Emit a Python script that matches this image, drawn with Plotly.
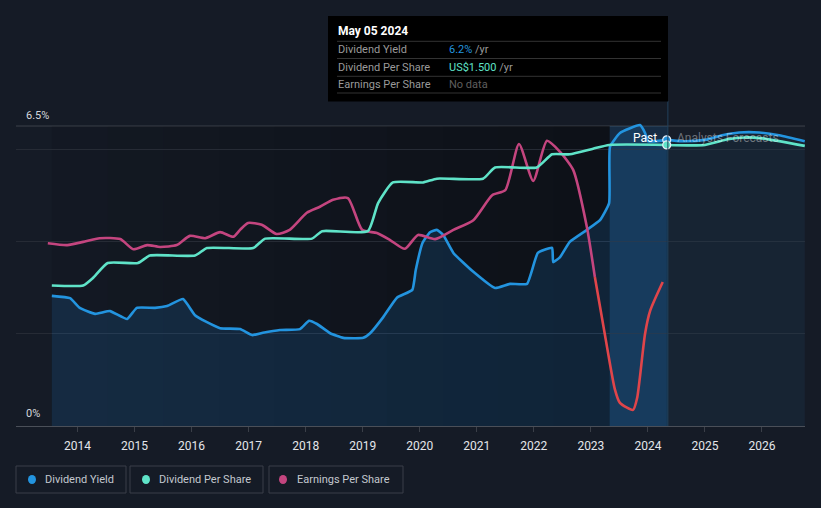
import plotly.graph_objects as go

# ---------------- data ----------------
yield_years = [2013.55, 2013.87, 2014.04, 2014.31, 2014.57, 2014.87, 2015.04, 2015.36, 2015.57,
               2015.85, 2016.06, 2016.27, 2016.50, 2016.85, 2017.06, 2017.25, 2017.55, 2017.90,
               2018.06, 2018.20, 2018.43, 2018.66, 2019.01, 2019.13, 2019.36, 2019.60, 2019.87,
               2019.93, 2020.05, 2020.18, 2020.30, 2020.41, 2020.59, 2020.94, 2021.32, 2021.58,
               2021.88, 2022.07, 2022.32, 2022.34, 2022.46, 2022.63, 2022.93, 2023.16, 2023.32,
               2023.335, 2023.51, 2023.86, 2023.95, 2024.00, 2024.33]
yield_vals = [2.82, 2.77, 2.56, 2.43, 2.49, 2.32, 2.56, 2.56, 2.60,
              2.75, 2.40, 2.25, 2.12, 2.10, 1.97, 2.02, 2.08, 2.10,
              2.28, 2.21, 2.01, 1.91, 1.91, 2.01, 2.36, 2.78, 2.95,
              3.38, 3.97, 4.20, 4.25, 4.14, 3.75, 3.34, 2.99, 3.08,
              3.08, 3.75, 3.86, 3.55, 3.66, 3.99, 4.25, 4.46, 4.83,
              6.05, 6.35, 6.52, 6.35, 6.17, 6.20]

yield_fc_years = [2024.33, 2024.60, 2025.00, 2025.30, 2025.60, 2025.95, 2026.30, 2026.75]
yield_fc_vals = [6.20, 6.17, 6.20, 6.30, 6.36, 6.36, 6.30, 6.17]

dps_years = [2013.55, 2014.10, 2014.27, 2014.53, 2015.06, 2015.27, 2016.06, 2016.27, 2017.08,
             2017.29, 2018.11, 2018.29, 2019.09, 2019.27, 2019.53, 2020.06, 2020.30, 2021.11,
             2021.32, 2022.05, 2022.32, 2022.63, 2023.04, 2023.32, 2024.33]
dps_vals = [0.75, 0.75, 0.79, 0.87, 0.87, 0.91, 0.91, 0.95, 0.95,
            1.00, 1.00, 1.04, 1.04, 1.19, 1.30, 1.30, 1.32, 1.32,
            1.38, 1.38, 1.45, 1.45, 1.48, 1.50, 1.50]

dps_fc_years = [2024.33, 2025.00, 2025.40, 2025.70, 2026.00, 2026.75]
dps_fc_vals = [1.50, 1.50, 1.53, 1.54, 1.535, 1.495]

eps_years = [2013.48, 2013.82, 2014.10, 2014.39, 2014.75, 2014.98, 2015.22, 2015.45, 2015.74,
             2015.97, 2016.24, 2016.50, 2016.73, 2016.85, 2016.99, 2017.23, 2017.49, 2017.72,
             2018.02, 2018.25, 2018.48, 2018.74, 2018.99, 2019.25, 2019.48, 2019.74, 2019.97,
             2020.27, 2020.59, 2020.94, 2021.27, 2021.50, 2021.74, 2021.99, 2022.23, 2022.46,
             2022.69, 2022.93, 2023.07]
eps_vals = [3.96, 3.92, 3.99, 4.07, 4.05, 3.83, 3.92, 3.88, 3.92,
            4.12, 4.07, 4.20, 4.10, 4.25, 4.40, 4.36, 4.16, 4.25,
            4.62, 4.75, 4.90, 4.94, 4.25, 4.18, 4.03, 3.84, 4.14,
            4.05, 4.25, 4.46, 5.00, 5.11, 6.11, 5.31, 6.18, 5.94,
            5.55, 4.31, 3.23]

eps_neg_years = [2023.07, 2023.25, 2023.42, 2023.51, 2023.74, 2023.81, 2023.86, 2023.95, 2024.04, 2024.26]
eps_neg_vals = [3.23, 1.95, 0.80, 0.50, 0.35, 0.60, 1.06, 2.00, 2.50, 3.12]

tick_years = list(range(2014, 2027))
tick_labels = [str(y) for y in tick_years]

# ---------------- styling ----------------
BG = "#151b26"
BLUE = "#2394df"
TEAL = "#5fe3c8"
PINK = "#c4457f"
RED = "#e0454a"
W, H = 821, 508
ML, MR, MT, MB = 16, 16, 16, 82
PX_PER_UNIT = 46.15
Y_MAX = (H - MT - MB) / PX_PER_UNIT
DPS_TO_UNIT = 6.09 / 1.5
X_MIN, X_MAX = 2012.922, 2026.754
START, PAST_END, NOW = 2013.55, 2023.33, 2024.35
FONT = "Roboto"


def xp(px):
    return (px - ML) / (W - ML - MR)


def yp(py):
    return (H - MB - py) / (H - MT - MB)


fig = go.Figure()

fig.add_trace(go.Scatter(x=yield_years, y=yield_vals, mode="lines",
                         line=dict(color=BLUE, width=2.6, shape="spline", smoothing=0.4),
                         fill="tozeroy", fillcolor="rgba(33,150,243,0.15)", hoverinfo="skip"))
fig.add_trace(go.Scatter(x=yield_fc_years, y=yield_fc_vals, mode="lines",
                         line=dict(color=BLUE, width=2.6, shape="spline", smoothing=0.6),
                         fill="tozeroy", fillcolor="rgba(33,150,243,0.06)", hoverinfo="skip"))
fig.add_trace(go.Scatter(x=dps_years, y=dps_vals, yaxis="y2", mode="lines",
                         line=dict(color=TEAL, width=2.6, shape="spline", smoothing=0.5),
                         hoverinfo="skip"))
fig.add_trace(go.Scatter(x=dps_fc_years, y=dps_fc_vals, yaxis="y2", mode="lines",
                         line=dict(color=TEAL, width=2.6, shape="spline", smoothing=0.6),
                         hoverinfo="skip"))
fig.add_trace(go.Scatter(x=eps_years, y=eps_vals, mode="lines",
                         line=dict(color=PINK, width=2.6, shape="spline", smoothing=0.6),
                         hoverinfo="skip"))
fig.add_trace(go.Scatter(x=eps_neg_years, y=eps_neg_vals, mode="lines",
                         line=dict(color=RED, width=2.6, shape="spline", smoothing=0.6),
                         hoverinfo="skip"))
# current-point markers
fig.add_trace(go.Scatter(x=[yield_years[-1]], y=[yield_vals[-1]], mode="markers",
                         marker=dict(color=BLUE, size=8, line=dict(color="#e8eef5", width=1.2)),
                         hoverinfo="skip"))
fig.add_trace(go.Scatter(x=[dps_years[-1]], y=[dps_vals[-1]], yaxis="y2", mode="markers",
                         marker=dict(color=TEAL, size=8, line=dict(color="#e8eef5", width=1.2)),
                         hoverinfo="skip"))

shapes = []
# darker "past" background with gradient
n_seg = 10
for i in range(n_seg):
    x0 = START + (PAST_END - START) * i / n_seg
    x1 = START + (PAST_END - START) * (i + 1) / n_seg
    op = 0.06 + 0.32 * (i + 0.5) / n_seg
    shapes.append(dict(type="rect", xref="x", yref="y", x0=x0, x1=x1, y0=0, y1=6.5,
                       fillcolor=f"rgba(0,0,0,{op:.3f})", line=dict(width=0), layer="below"))
# last-year highlight band
shapes.append(dict(type="rect", xref="x", yref="y", x0=PAST_END, x1=NOW, y0=0, y1=6.5,
                   fillcolor="rgba(33,150,243,0.15)", line=dict(width=0), layer="below"))
# forecast region
shapes.append(dict(type="rect", xref="x", yref="y", x0=NOW, x1=X_MAX, y0=0, y1=6.5,
                   fillcolor="rgba(255,255,255,0.012)", line=dict(width=0), layer="below"))
# 6.5% line
shapes.append(dict(type="line", xref="paper", yref="y", x0=0, x1=1, y0=6.5, y1=6.5,
                   line=dict(color="#3c414b", width=1), layer="below"))
# now line
shapes.append(dict(type="line", xref="x", yref="paper", x0=NOW, x1=NOW, y0=0, y1=yp(101),
                   line=dict(color="#22405c", width=1)))

# tooltip box
shapes.append(dict(type="rect", xref="paper", yref="paper", x0=xp(328), x1=xp(668),
                   y0=yp(101.5), y1=yp(16), fillcolor="#000000", line=dict(width=0)))
for sy in [41.3, 58.5, 76.3, 93]:
    shapes.append(dict(type="line", xref="paper", yref="paper", x0=xp(337), x1=xp(661),
                       y0=yp(sy), y1=yp(sy), line=dict(color="#333333", width=1)))

# legend boxes
legend_items = [("Dividend Yield", BLUE, 16, 126, 32, 43),
                ("Dividend Per Share", TEAL, 130, 263, 146, 157),
                ("Earnings Per Share", PINK, 269, 403, 283, 295)]
annotations = []
for name, col, bx0, bx1, dx, tx in legend_items:
    shapes.append(dict(type="rect", xref="paper", yref="paper", x0=xp(bx0), x1=xp(bx1),
                       y0=yp(493), y1=yp(466), line=dict(color="#3a3f49", width=1),
                       fillcolor="rgba(0,0,0,0)"))
    shapes.append(dict(type="circle", xref="paper", yref="paper", x0=xp(dx - 4), x1=xp(dx + 4),
                       y0=yp(484), y1=yp(475), fillcolor=col, line=dict(width=0)))
    annotations.append(dict(xref="paper", yref="paper", x=xp(tx), y=yp(479.5), text=name,
                            showarrow=False, xanchor="left", yanchor="middle",
                            font=dict(family=FONT, size=11, color="#c3c8cf")))

# y labels
annotations.append(dict(xref="paper", yref="y", x=xp(24), y=6.5, yshift=2, text="6.5%",
                        showarrow=False, xanchor="left", yanchor="bottom",
                        font=dict(family=FONT, size=11, color="#d5d8dd")))
annotations.append(dict(xref="paper", yref="y", x=xp(24), y=0, yshift=4, text="0%",
                        showarrow=False, xanchor="left", yanchor="bottom",
                        font=dict(family=FONT, size=11, color="#d5d8dd")))
# past / forecast labels
annotations.append(dict(xref="x", yref="y", x=2024.20, y=6.24, text="Past", showarrow=False,
                        xanchor="right", yanchor="middle",
                        font=dict(family=FONT, size=12, color="#ffffff")))
annotations.append(dict(xref="x", yref="y", x=2024.48, y=6.24, text="Analysts Forecasts",
                        showarrow=False, xanchor="left", yanchor="middle",
                        font=dict(family=FONT, size=12, color="rgba(255,255,255,0.38)")))

# tooltip text
annotations.append(dict(xref="paper", yref="paper", x=xp(336), y=yp(31), text="<b>May 05 2024</b>",
                        showarrow=False, xanchor="left", yanchor="middle",
                        font=dict(family=FONT, size=12, color="#ffffff")))
rows = [("Dividend Yield", f"<span style='color:{BLUE}'>6.2%</span> /yr", 49.5),
        ("Dividend Per Share", f"<span style='color:{TEAL}'>US$1.500</span> /yr", 67),
        ("Earnings Per Share", "<span style='color:#5f5f5f'>No data</span>", 84.5)]
for lab, val, ry in rows:
    annotations.append(dict(xref="paper", yref="paper", x=xp(336), y=yp(ry), text=lab,
                            showarrow=False, xanchor="left", yanchor="middle",
                            font=dict(family=FONT, size=11, color="#9a9a9a")))
    annotations.append(dict(xref="paper", yref="paper", x=xp(447), y=yp(ry), text=val,
                            showarrow=False, xanchor="left", yanchor="middle",
                            font=dict(family=FONT, size=11, color="#9a9a9a")))

fig.update_layout(
    width=W, height=H,
    margin=dict(l=ML, r=MR, t=MT, b=MB),
    paper_bgcolor=BG, plot_bgcolor=BG,
    showlegend=False,
    shapes=shapes, annotations=annotations,
    xaxis=dict(range=[X_MIN, X_MAX], tickvals=tick_years, ticktext=tick_labels,
               showgrid=False, zeroline=False, showline=True, linecolor="#4a4f58", linewidth=1,
               ticks="outside", ticklen=5, tickcolor="#3a3f48", ticklabelstandoff=4,
               tickfont=dict(family=FONT, size=12, color="#e4e6ea"),
               fixedrange=True),
    yaxis=dict(range=[0, Y_MAX], tickvals=[2, 4, 6], showticklabels=False,
               showgrid=True, gridcolor="#262b35", gridwidth=1, zeroline=False, fixedrange=True),
    yaxis2=dict(range=[0, Y_MAX / DPS_TO_UNIT], overlaying="y", visible=False, fixedrange=True),
)

fig.write_html("out.html", config={"displayModeBar": False},
               post_script="document.body.style.margin='0';document.body.style.background='#151b26';")
